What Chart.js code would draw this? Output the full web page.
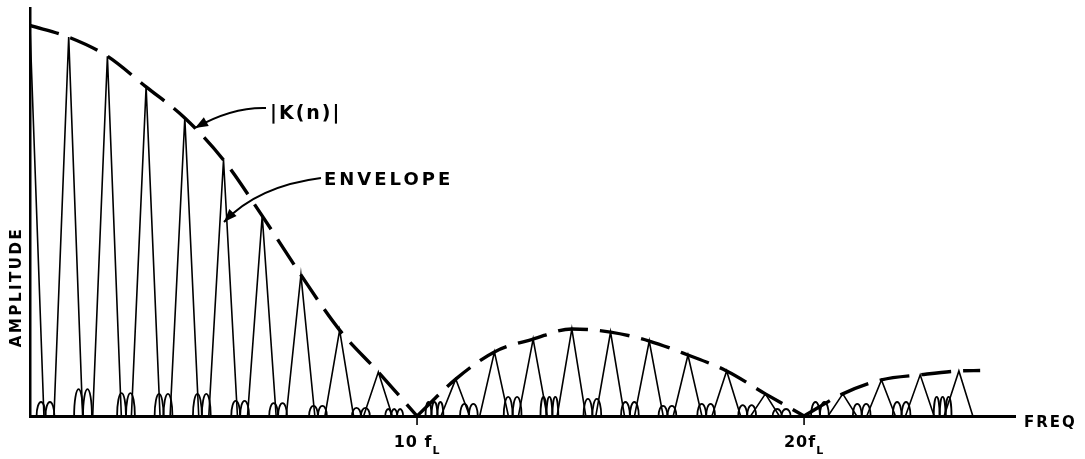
<!DOCTYPE html>
<html>
<head>
<meta charset="utf-8">
<script src="https://cdn.jsdelivr.net/npm/chart.js@4.4.1/dist/chart.umd.min.js"></script>
<style>
  html, body { margin: 0; padding: 0; background: #fff; }
</style>
</head>
<body>
<canvas id="chart" width="1085" height="459"></canvas>
<script>
// line spectrum: harmonic number (units of f_L) and |K(n)|
const harmonics = [0, 1, 2, 3, 4, 5, 6, 7, 8, 9, 11, 12, 13, 14, 15, 16, 17, 18, 19, 21, 22, 23, 24];
const amplitudes = [100, 97.5, 92.6, 84.7, 76.7, 65.9, 51.5, 36.3, 22.1, 11.3,
  9.5, 16.5, 19.8, 22.4, 21.6, 19.3, 15.7, 11.6, 5.7,
  5.7, 9.3, 10.6, 11.6];

// envelope, one lobe per array pair
const envX1 = [0, 1, 2, 3, 4, 5, 6, 7, 8, 9, 10];
const envY1 = [100.5, 97.5, 92.6, 84.7, 76.7, 65.9, 51.5, 36.3, 22.1, 11.3, 0];
const envX2 = [10, 11, 12, 13, 14, 15, 16, 17, 18, 19, 20];
const envY2 = [0, 9.5, 16.5, 19.8, 22.4, 21.6, 19.3, 15.7, 11.6, 5.7, 0];
const envX3 = [20, 21, 22, 23, 24, 24.55];
const envY3 = [0, 5.7, 9.3, 10.6, 11.6, 11.7];

// small sidelobe loops between the lines
const bumpX = [0.40, 1.37, 2.48, 3.45, 4.44, 5.43, 6.41, 7.44, 8.55, 9.41, 10.45, 11.34,
  12.47, 13.42, 14.53, 15.50, 16.47, 17.47, 18.53, 19.42, 20.41, 21.49, 22.52, 23.58];
const bumpH = [3.6, 6.9, 5.9, 5.7, 5.7, 3.9, 3.3, 2.6, 2.1, 1.8, 3.6, 3.1,
  4.9, 4.9, 4.4, 3.6, 2.6, 3.1, 2.8, 1.8, 3.6, 3.1, 3.6, 4.9];
const bumpN = [2, 2, 2, 2, 2, 2, 2, 2, 2, 3, 3, 2, 2, 3, 2, 2, 2, 2, 2, 2, 2, 2, 2, 3];

const tickValues = [10, 20];
const tickNames = ["10 f", "20f"];

const FONT = "'DejaVu Sans', sans-serif";

function lobe(xs, ys) {
  return {
    data: xs.map((v, i) => ({ x: v, y: ys[i] })),
    borderColor: "#000",
    borderWidth: 3.4,
    borderDash: [30, 12],
    borderCapStyle: "butt",
    pointRadius: 0,
    tension: 0.4,
    cubicInterpolationMode: "monotone",
    fill: false,
  };
}

const spikePoints = [];
harmonics.forEach((n, i) => {
  spikePoints.push(
    { x: Math.max(0, n - 0.38), y: 0 },
    { x: n, y: amplitudes[i] },
    { x: n + 0.36, y: 0 },
    { x: n + 0.5, y: null }
  );
});

const sidelobes = {
  id: "sidelobes",
  afterDatasetsDraw(chart) {
    const { ctx, scales: { x, y } } = chart;
    const base = y.getPixelForValue(0);
    ctx.save();
    ctx.strokeStyle = "#000";
    ctx.lineWidth = 1.8;
    bumpX.forEach((c, i) => {
      const n = bumpN[i];
      const w = 0.46 / n;
      for (let k = 0; k < n; k++) {
        const mid = c - 0.23 + w * (k + 0.5);
        const cx = x.getPixelForValue(mid);
        const rx = x.getPixelForValue(mid + w / 2) - cx;
        const ry = base - y.getPixelForValue(bumpH[i]);
        ctx.beginPath();
        ctx.ellipse(cx, base, rx, ry, 0, Math.PI, 2 * Math.PI);
        ctx.stroke();
      }
    });
    ctx.restore();
  },
};

function arrow(ctx, x0, y0, cx, cy, x1, y1) {
  ctx.beginPath();
  ctx.moveTo(x0, y0);
  ctx.quadraticCurveTo(cx, cy, x1, y1);
  ctx.stroke();
  const a = Math.atan2(y1 - cy, x1 - cx);
  const len = 13, half = 5;
  ctx.beginPath();
  ctx.moveTo(x1, y1);
  ctx.lineTo(x1 - len * Math.cos(a) + half * Math.sin(a), y1 - len * Math.sin(a) - half * Math.cos(a));
  ctx.lineTo(x1 - len * Math.cos(a) - half * Math.sin(a), y1 - len * Math.sin(a) + half * Math.cos(a));
  ctx.closePath();
  ctx.fill();
}

const labels = {
  id: "labels",
  afterDraw(chart) {
    const { ctx, scales: { x, y } } = chart;
    const base = y.getPixelForValue(0);
    ctx.save();
    ctx.fillStyle = "#000";
    ctx.strokeStyle = "#000";

    // ticks and their labels
    ctx.lineWidth = 1.6;
    tickValues.forEach((v, i) => {
      const px = x.getPixelForValue(v);
      ctx.beginPath();
      ctx.moveTo(px, base);
      ctx.lineTo(px, base + 9);
      ctx.stroke();
      ctx.font = "bold 16px " + FONT;
      ctx.letterSpacing = "1px";
      ctx.textBaseline = "alphabetic";
      ctx.textAlign = "left";
      const wMain = ctx.measureText(tickNames[i]).width;
      ctx.font = "bold 11px " + FONT;
      const wSub = ctx.measureText("L").width;
      const left = px - (wMain + wSub) / 2;
      ctx.font = "bold 16px " + FONT;
      ctx.fillText(tickNames[i], left, base + 31);
      ctx.font = "bold 11px " + FONT;
      ctx.fillText("L", left + wMain, base + 38);
    });

    // axis names
    ctx.font = "bold 15px " + FONT;
    ctx.letterSpacing = "2px";
    ctx.textAlign = "left";
    ctx.textBaseline = "middle";
    ctx.fillText("FREQ", 1024, base + 7);

    ctx.save();
    ctx.translate(17, 287);
    ctx.rotate(-Math.PI / 2);
    ctx.font = "bold 15px " + FONT;
    ctx.letterSpacing = "2.5px";
    ctx.textAlign = "center";
    ctx.fillText("AMPLITUDE", 0, 0);
    ctx.restore();

    // call-outs
    ctx.font = "bold 19px " + FONT;
    ctx.letterSpacing = "2px";
    ctx.textAlign = "left";
    ctx.fillText("|K(n)|", 270, 114);
    ctx.font = "bold 18px " + FONT;
    ctx.letterSpacing = "3px";
    ctx.fillText("ENVELOPE", 324, 180);

    ctx.lineWidth = 2;
    arrow(ctx, 266, 108, 232, 107, 195, 128);
    arrow(ctx, 321, 178, 258, 186, 224, 222);
    ctx.restore();
  },
};

new Chart(document.getElementById("chart"), {
  type: "line",
  data: {
    datasets: [
      {
        data: spikePoints,
        borderColor: "#000",
        borderWidth: 1.6,
        pointRadius: 0,
        tension: 0,
        spanGaps: false,
        fill: false,
      },
      lobe(envX1, envY1),
      lobe(envX2, envY2),
      lobe(envX3, envY3),
    ],
  },
  options: {
    responsive: false,
    animation: false,
    layout: { padding: { left: 30, top: 8, right: 70, bottom: 43 } },
    plugins: { legend: { display: false }, tooltip: { enabled: false } },
    scales: {
      x: {
        type: "linear",
        min: 0,
        max: 25.45,
        grid: { display: false, drawTicks: false },
        ticks: { display: false },
        border: { display: true, color: "#000", width: 3 },
      },
      y: {
        type: "linear",
        min: 0,
        max: 105,
        grid: { display: false, drawTicks: false },
        ticks: { display: false },
        border: { display: true, color: "#000", width: 2.5 },
      },
    },
  },
  plugins: [sidelobes, labels],
});
</script>
</body>
</html>
